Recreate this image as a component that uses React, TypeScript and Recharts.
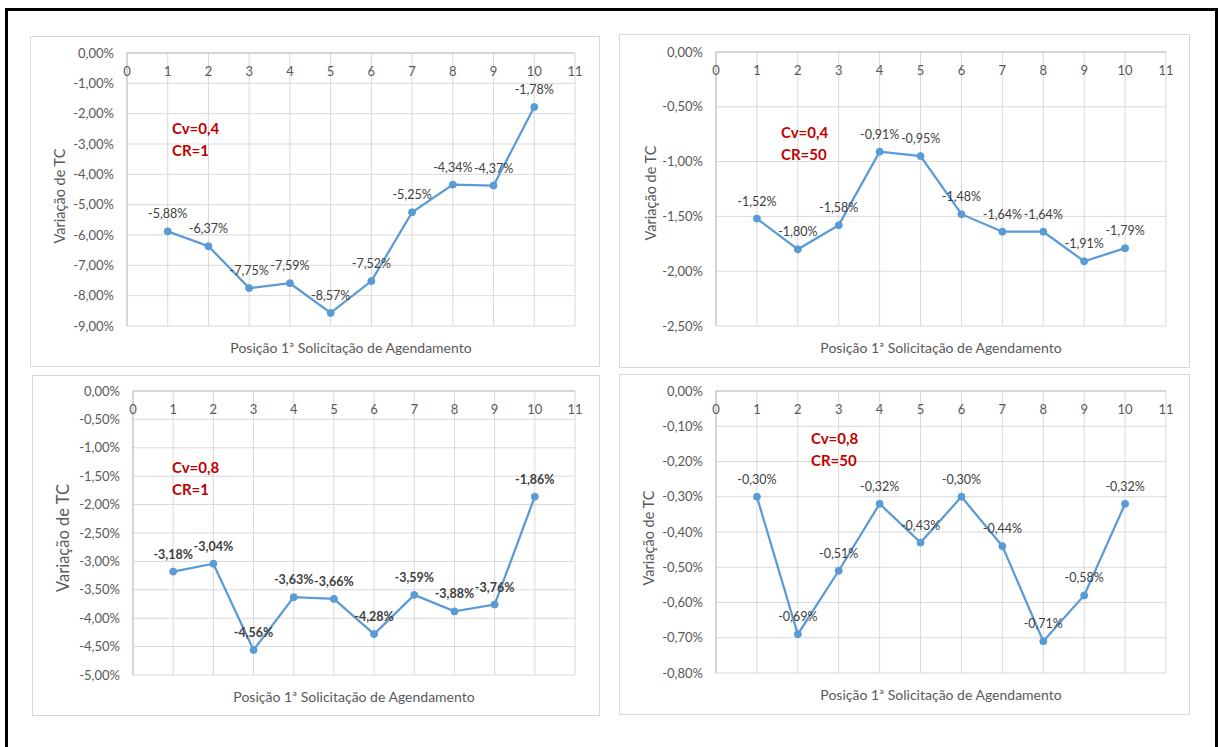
import React from 'react';
import { LineChart, Line, XAxis, YAxis, CartesianGrid, LabelList } from 'recharts';

const positions = [1, 2, 3, 4, 5, 6, 7, 8, 9, 10];
const xTicks = [0, 1, 2, 3, 4, 5, 6, 7, 8, 9, 10, 11];

const valuesCv04CR1 = [-5.88, -6.37, -7.75, -7.59, -8.57, -7.52, -5.25, -4.34, -4.37, -1.78];
const valuesCv04CR50 = [-1.52, -1.80, -1.58, -0.91, -0.95, -1.48, -1.64, -1.64, -1.91, -1.79];
const valuesCv08CR1 = [-3.18, -3.04, -4.56, -3.63, -3.66, -4.28, -3.59, -3.88, -3.76, -1.86];
const valuesCv08CR50 = [-0.30, -0.69, -0.51, -0.32, -0.43, -0.30, -0.44, -0.71, -0.58, -0.32];

const yTicksCv04CR1 = [0, -1, -2, -3, -4, -5, -6, -7, -8, -9];
const yTicksCv04CR50 = [0, -0.5, -1, -1.5, -2, -2.5];
const yTicksCv08CR1 = [0, -0.5, -1, -1.5, -2, -2.5, -3, -3.5, -4, -4.5, -5];
const yTicksCv08CR50 = [0, -0.1, -0.2, -0.3, -0.4, -0.5, -0.6, -0.7, -0.8];

const cvLabels = ['Cv=0,4', 'Cv=0,4', 'Cv=0,8', 'Cv=0,8'];
const crLabels = ['CR=1', 'CR=50', 'CR=1', 'CR=50'];
const xTitle = 'Posição 1ª Solicitação de Agendamento';
const yTitle = 'Variação de TC';

const fmt = (v: any) => {
  const n = Number(v);
  const s = Math.abs(n).toFixed(2).replace('.', ',') + '%';
  return n < -1e-9 ? '-' + s : s;
};

const layouts = [
  { bx: 30, by: 36, w: 570, h: 331, pl: 97, pt: 17, pr: 25, pb: 41, ytx: 30, yty: 160, ytf: 14.5, ax: 142, ay: 92 },
  { bx: 619, by: 34, w: 571, h: 334, pl: 97, pt: 18, pr: 24, pb: 42, ytx: 32, yty: 159, ytf: 14.5, ax: 162, ay: 98 },
  { bx: 32, by: 375, w: 568, h: 341, pl: 101, pt: 16, pr: 25, pb: 41, ytx: 31, yty: 163, ytf: 16.5, ax: 140, ay: 92 },
  { bx: 619, by: 374, w: 571, h: 341, pl: 97, pt: 17, pr: 24, pb: 42, ytx: 30, yty: 163.5, ytf: 14.5, ax: 192, ay: 64 },
];

function Panel({ idx, values, yTicks, bold }: any) {
  const L = layouts[idx];
  const rows = positions.map((p, i) => ({ x: p, y: values[i] }));
  const plotW = L.w - L.pl - L.pr;
  return (
    <div
      style={{
        position: 'absolute', left: L.bx, top: L.by, width: L.w, height: L.h,
        border: '1px solid #D9D9D9', boxSizing: 'border-box', background: '#fff',
      }}
    >
      <div style={{ position: 'absolute', left: -1, top: -1 }}>
        <LineChart width={L.w} height={L.h} data={rows} margin={{ top: L.pt - 1, right: L.pr, bottom: L.pb, left: 0 }}>
          <CartesianGrid stroke="#D9D9D9" />
          <XAxis
            dataKey="x" type="number" orientation="top" domain={[0, 11]} ticks={xTicks} interval={0}
            height={1} tickSize={0} tickMargin={0} axisLine={{ stroke: '#BFBFBF' }} tickLine={false}
            tick={{ fill: '#595959', fontSize: 13, dy: 23 }}
          />
          <YAxis
            type="number" domain={[yTicks[yTicks.length - 1], 0]} ticks={yTicks} interval={0} width={L.pl}
            tickSize={0} tickMargin={13} axisLine={{ stroke: '#BFBFBF' }} tickLine={false}
            tickFormatter={fmt} tick={{ fill: '#595959', fontSize: 13 }} allowDataOverflow
          />
          <Line
            dataKey="y" stroke="#5B9BD5" strokeWidth={2.25}
            dot={{ r: 3.5, fill: '#5B9BD5', stroke: '#5B9BD5', strokeWidth: 1 }}
            isAnimationActive={false}
          >
            <LabelList
              dataKey="y" position="top" offset={13} formatter={fmt}
              fill="#404040" fontSize={12.5} fontWeight={bold ? 700 : 400}
            />
          </Line>
        </LineChart>
      </div>
      <div
        style={{
          position: 'absolute', left: L.pl - 1, width: plotW, top: L.h - L.pb + 22 - 9 - 1,
          height: 18, lineHeight: '18px', textAlign: 'center', fontSize: 14, color: '#595959', whiteSpace: 'nowrap',
        }}
      >
        {xTitle}
      </div>
      <div
        style={{
          position: 'absolute', left: L.ytx - 1, top: L.yty - 1, transform: 'translate(-50%, -50%) rotate(-90deg)',
          fontSize: L.ytf, color: '#595959', whiteSpace: 'nowrap', lineHeight: '18px',
        }}
      >
        {yTitle}
      </div>
      <div
        style={{
          position: 'absolute', left: L.ax - 1, top: L.ay - 11 - 1, color: '#C00000', fontWeight: 700,
          fontSize: 15, lineHeight: '22px', whiteSpace: 'nowrap',
        }}
      >
        <div>{cvLabels[idx]}</div>
        <div>{crLabels[idx]}</div>
      </div>
    </div>
  );
}

export default function App() {
  return (
    <div
      style={{
        position: 'absolute', left: 0, top: 0, width: 1219, height: 747, overflow: 'hidden',
        background: '#fff', fontFamily: 'Lato, "Open Sans", sans-serif',
      }}
    >
      <div
        style={{
          position: 'absolute', left: 5, top: 8, width: 1213, height: 800,
          border: '3px solid #000', boxSizing: 'border-box',
        }}
      />
      <Panel idx={0} values={valuesCv04CR1} yTicks={yTicksCv04CR1} bold={false} />
      <Panel idx={1} values={valuesCv04CR50} yTicks={yTicksCv04CR50} bold={false} />
      <Panel idx={2} values={valuesCv08CR1} yTicks={yTicksCv08CR1} bold={true} />
      <Panel idx={3} values={valuesCv08CR50} yTicks={yTicksCv08CR50} bold={false} />
    </div>
  );
}
